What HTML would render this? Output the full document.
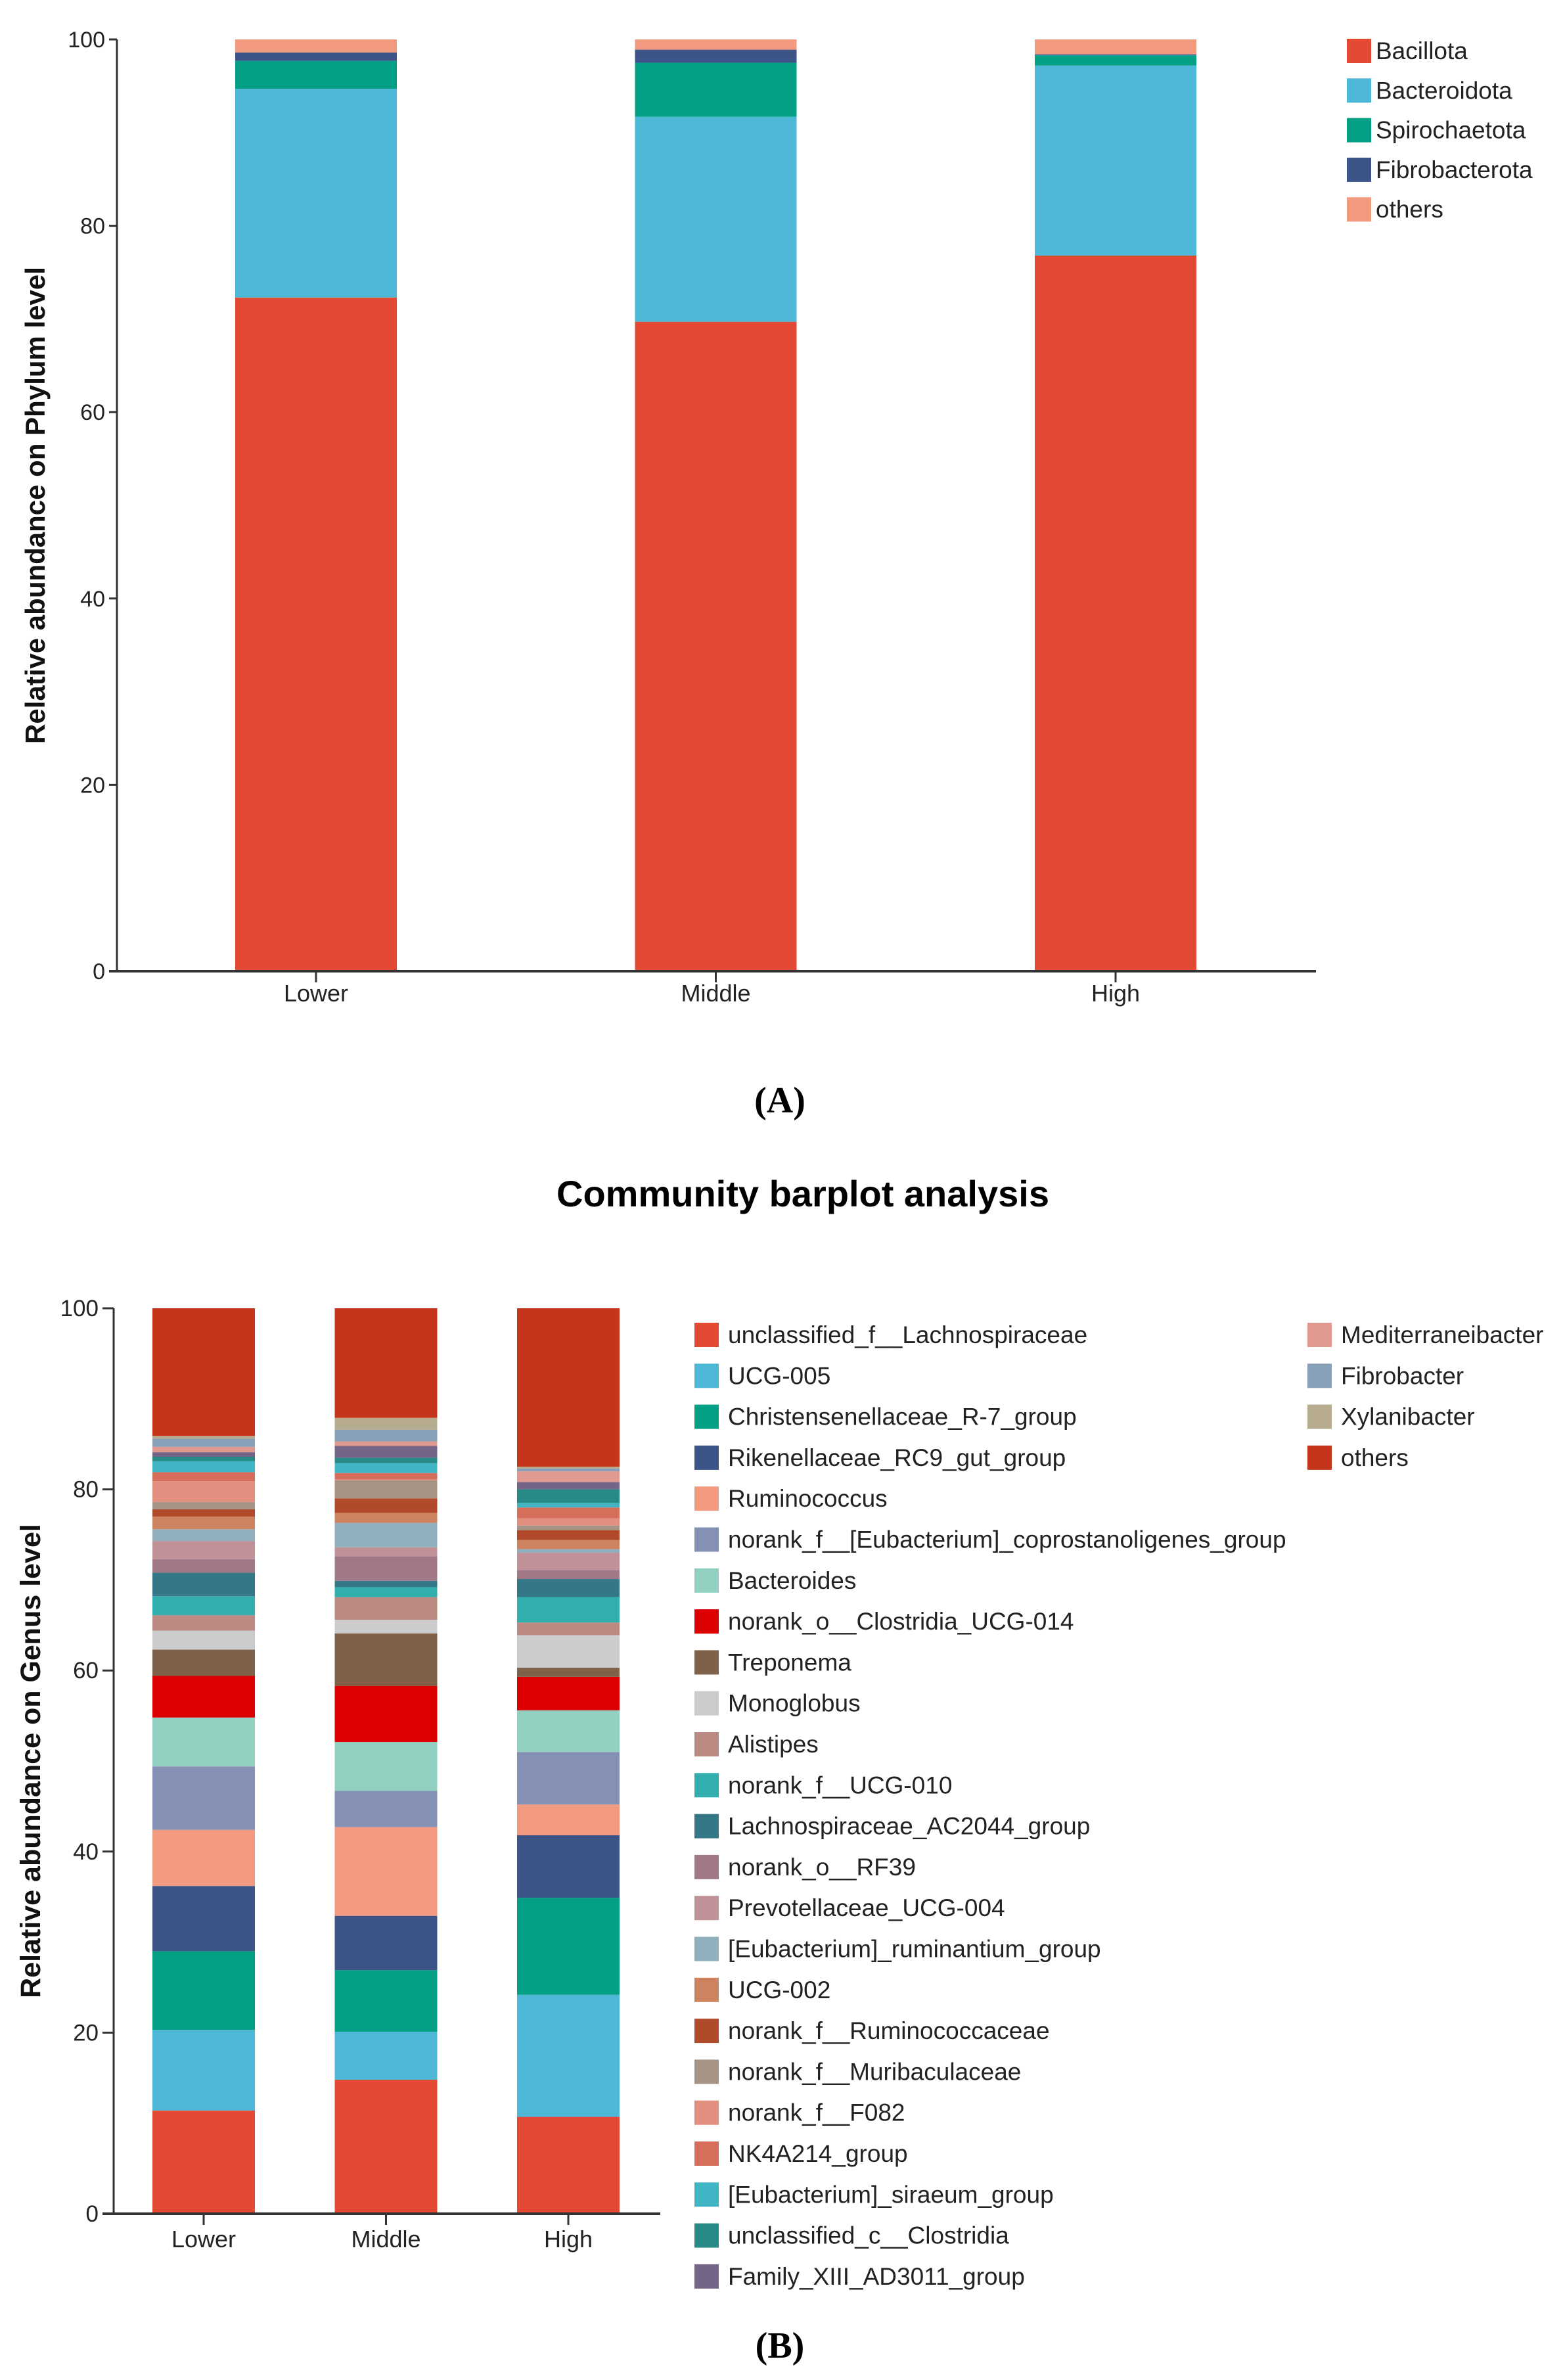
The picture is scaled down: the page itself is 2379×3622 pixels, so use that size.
<!DOCTYPE html>
<html><head><meta charset="utf-8">
<style>
html,body{margin:0;padding:0;background:#fff;}
svg{display:block;font-family:"Liberation Sans",Arial,sans-serif;}
</style></head>
<body>
<svg id="fig" width="2379" height="3622" viewBox="0 0 2379 3622" xmlns="http://www.w3.org/2000/svg">
  <g id="chartA"></g>
  <text x="1187" y="1693" text-anchor="middle" font-family="Liberation Serif, serif" font-weight="bold" font-size="56">(A)</text>
  <text x="1222" y="1836" text-anchor="middle" font-weight="bold" font-size="56">Community barplot analysis</text>
  <g id="chartB"></g>
  <text x="1187" y="3588" text-anchor="middle" font-family="Liberation Serif, serif" font-weight="bold" font-size="56">(B)</text>
</svg>
<script>
const samples = ["Lower","Middle","High"];
const yTicks = [0,20,40,60,80,100];

const phylaNames = ["Bacillota","Bacteroidota","Spirochaetota","Fibrobacterota","others"];
const phylaColors = ["#e34a33","#4db9d6","#03a086","#3c5488","#f19a80"];
const phylaLower = [72.3,22.4,3.0,0.9,1.4];
const phylaMiddle = [69.7,22.0,5.8,1.4,1.1];
const phylaHigh = [76.8,20.4,1.1,0.1,1.6];

const genusNames = ["unclassified_f__Lachnospiraceae","UCG-005","Christensenellaceae_R-7_group","Rikenellaceae_RC9_gut_group","Ruminococcus","norank_f__[Eubacterium]_coprostanoligenes_group","Bacteroides","norank_o__Clostridia_UCG-014","Treponema","Monoglobus","Alistipes","norank_f__UCG-010","Lachnospiraceae_AC2044_group","norank_o__RF39","Prevotellaceae_UCG-004","[Eubacterium]_ruminantium_group","UCG-002","norank_f__Ruminococcaceae","norank_f__Muribaculaceae","norank_f__F082","NK4A214_group","[Eubacterium]_siraeum_group","unclassified_c__Clostridia","Family_XIII_AD3011_group","Mediterraneibacter","Fibrobacter","Xylanibacter","others"];
const genusColors = ["#e34a33","#4db9d6","#03a086","#3c5488","#f19a80","#8591b4","#92d1c2","#dc0000","#7e6148","#cccccc","#bb8a82","#32aeaf","#347888","#a07888","#c09298","#8eafbb","#ce8360","#b04a2a","#a69486","#e38f80","#d66e5c","#40b5c4","#288a86","#736488","#e09a90","#88a0b8","#b8ac90","#c43519"];
const genusLower = [11.4,8.9,8.7,7.2,6.2,7.0,5.4,4.6,2.9,2.1,1.7,2.1,2.6,1.5,2.0,1.3,1.4,0.8,0.8,2.3,1.0,1.2,0.5,0.5,0.6,0.9,0.3,14.1];
const genusMiddle = [14.8,5.3,6.8,6.0,9.8,4.0,5.4,6.2,5.8,1.5,2.5,1.1,0.7,2.7,1.0,2.7,1.1,1.6,2.0,0.1,0.7,1.1,0.6,1.3,0.5,1.3,1.3,12.1];
const genusHigh = [10.7,13.5,10.7,6.9,3.4,5.8,4.6,3.7,1.0,3.6,1.4,2.8,2.0,1.0,1.9,0.4,1.0,1.1,0.5,0.8,1.2,0.5,1.5,0.8,1.2,0.3,0.2,17.5];

const NS = "http://www.w3.org/2000/svg";
function mk(tag, parent, attrs, text){
  const e = document.createElementNS(NS, tag);
  for (const k in attrs) e.setAttribute(k, attrs[k]);
  if (text !== undefined) e.textContent = text;
  parent.appendChild(e);
  return e;
}

function drawChart(g, cfg){
  const yScale = v => cfg.y0 - (v/100)*(cfg.y0-cfg.y100);
  const xCenter = i => cfg.firstCenter + i*cfg.step;
  cfg.series.forEach((vals, si) => {
    let cum = 0;
    vals.forEach((v, k) => {
      const r = mk('rect', g, {x: xCenter(si)-cfg.barW/2, y: yScale(cum+v), width: cfg.barW, height: Math.max(0, yScale(cum)-yScale(cum+v)), fill: cfg.colors[k]});
      
      
      cum += v;
    });
  });
  const ya = mk('line', g, {x1: cfg.axisX, y1: cfg.y100, x2: cfg.axisX, y2: cfg.y0+2, stroke: '#333', 'stroke-width': 3});
  
  
  yTicks.forEach(t => {
    const tl = mk('line', g, {x1: cfg.axisX-cfg.tickLen, y1: yScale(t), x2: cfg.axisX, y2: yScale(t), stroke: '#333', 'stroke-width': 3});
    
    
    const tx = mk('text', g, {x: cfg.axisX-cfg.tickLen-6, y: yScale(t)+12, 'text-anchor': 'end', 'font-size': cfg.tickFont, fill: '#222'}, String(t));
    
    
  });
  const xa = mk('line', g, {x1: cfg.axisX-cfg.tickLen, y1: cfg.y0, x2: cfg.axisEnd, y2: cfg.y0, stroke: '#333', 'stroke-width': 4});
  
  
  samples.forEach((s, i) => {
    const tl = mk('line', g, {x1: xCenter(i), y1: cfg.y0, x2: xCenter(i), y2: cfg.y0+17, stroke: '#333', 'stroke-width': 3});
    
    
    const tx = mk('text', g, {x: xCenter(i), y: cfg.y0+cfg.xLabOff, 'text-anchor': 'middle', 'font-size': 36, fill: '#222'}, s);
    
    
  });
  const cy = (cfg.y0+cfg.y100)/2;
  const yt = mk('text', g, {x: cfg.titleX, y: cy, 'text-anchor': 'middle', 'font-size': cfg.titleFont, 'font-weight': 'bold', fill: '#111', transform: 'rotate(-90 ' + cfg.titleX + ' ' + cy + ')', dy: 15}, cfg.yTitle);
  
  
  cfg.names.forEach((n, k) => {
    const col = k < cfg.perCol ? 0 : 1;
    const row = k < cfg.perCol ? k : k - cfg.perCol;
    const lx = cfg.legX[col], ly = cfg.legY + row*cfg.legStep;
    const lg = mk('g', g, {});
    
    
    mk('rect', lg, {x: lx, y: ly-18, width: 37, height: 37, fill: cfg.colors[k]});
    mk('text', lg, {x: lx+cfg.textOff, y: ly+13, 'font-size': 37, fill: '#222'}, n);
  });
}

drawChart(document.getElementById('chartA'), {
  series: [phylaLower, phylaMiddle, phylaHigh], colors: phylaColors, names: phylaNames,
  keyNames: ["bacillota","bacteroidota","spirochaetota","fibrobacterota","others"],
  y0: 1478, y100: 60, axisX: 178, axisEnd: 2003, tickLen: 12, tickFont: 34,
  firstCenter: 481, step: 608.5, barW: 246, xLabOff: 46,
  titleX: 53, titleFont: 42, yTitle: "Relative abundance on Phylum level",
  legX: [2050, 2050], legY: 77, legStep: 60.3, perCol: 5, textOff: 44
});

drawChart(document.getElementById('chartB'), {
  series: [genusLower, genusMiddle, genusHigh], colors: genusColors, names: genusNames,
  keyNames: genusNames.map((n,i)=>'genus-'+i),
  y0: 3369, y100: 1991, axisX: 173, axisEnd: 1005, tickLen: 17, tickFont: 35,
  firstCenter: 310, step: 277.5, barW: 156, xLabOff: 51,
  titleX: 46, titleFont: 43, yTitle: "Relative abundance on Genus level",
  legX: [1057, 1990], legY: 2031, legStep: 62.3, perCol: 24, textOff: 51
});
</script>
</body></html>
